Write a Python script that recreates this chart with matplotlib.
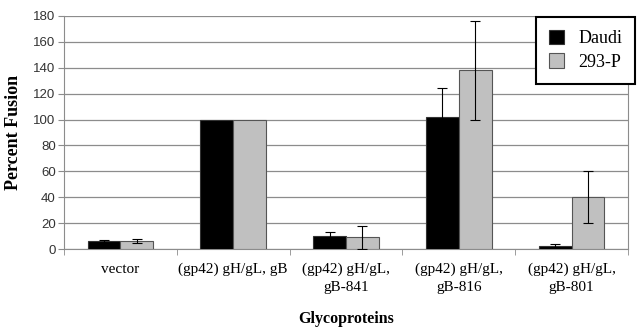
import numpy as np
import matplotlib
matplotlib.use('Agg')
import matplotlib.pyplot as plt

categories = ['vector', '(gp42) gH/gL, gB', '(gp42) gH/gL,\ngB-841',
              '(gp42) gH/gL,\ngB-816', '(gp42) gH/gL,\ngB-801']
daudi = [6, 100, 10, 102, 2.5]
daudi_err = [1, 0, 3, 22, 1]
p293 = [6, 100, 9, 138, 40]
p293_err = [1.5, 0, 9, 38, 20]

fig = plt.figure(figsize=(6.41, 3.28), dpi=100)
ax = fig.add_axes([64 / 641, 1 - 249 / 328, 564 / 641, 233 / 328])

x = np.arange(len(categories))
w = 0.29
ax.bar(x - w / 2, daudi, w, color='black', edgecolor='#333333', lw=0.8,
       label='Daudi', zorder=3)
ax.bar(x + w / 2, p293, w, color='#c0c0c0', edgecolor='#555555', lw=0.8,
       label='293-P', zorder=3)

# error bars only where there is a spread
for off, vals, errs in [(-w / 2, daudi, daudi_err), (w / 2, p293, p293_err)]:
    vals = np.array(vals)
    errs = np.array(errs)
    m = errs > 0
    ax.errorbar(x[m] + off, vals[m], yerr=errs[m], fmt='none', ecolor='black',
                elinewidth=0.8, capsize=3.5, capthick=0.8, zorder=4)

ax.set_xlim(-0.5, len(categories) - 0.5)
ax.set_ylim(0, 180)
ax.set_yticks(np.arange(0, 181, 20))
ax.yaxis.grid(True, color='#8c8c8c', lw=0.9, zorder=0)
ax.set_axisbelow(True)

ax.set_xticks(x)
ax.set_xticklabels(categories, family='Liberation Serif', fontsize=11, linespacing=1.5)
ax.set_xticks(np.arange(-0.5, len(categories), 1), minor=True)
ax.tick_params(axis='x', which='major', length=0, pad=10)
ax.tick_params(axis='x', which='minor', length=4, color='#8c8c8c', direction='out')
ax.tick_params(axis='y', length=4, color='#8c8c8c', labelsize=9.5, pad=2)
for lbl in ax.get_yticklabels():
    lbl.set_family('Liberation Sans')
    lbl.set_color('#333333')

for s in ['left', 'bottom', 'right']:
    ax.spines[s].set_color('#8c8c8c')
ax.spines['top'].set_visible(False)

ax.set_ylabel('Percent Fusion', family='Liberation Serif', fontweight='bold', fontsize=13, labelpad=8)
ax.set_xlabel('Glycoproteins', family='Liberation Serif', fontweight='bold', fontsize=11.5, labelpad=12)

leg = ax.legend(loc='upper right', bbox_to_anchor=(635 / 641, 1 - 17 / 328),
                bbox_transform=fig.transFigure, fancybox=False, framealpha=1,
                edgecolor='black', prop={'family': 'Liberation Serif', 'size': 13},
                handlelength=0.85, handleheight=0.85, handletextpad=0.8,
                borderpad=0.7, labelspacing=0.35, borderaxespad=0)
leg.get_frame().set_linewidth(1.5)

fig.savefig('out.png', dpi=100)
